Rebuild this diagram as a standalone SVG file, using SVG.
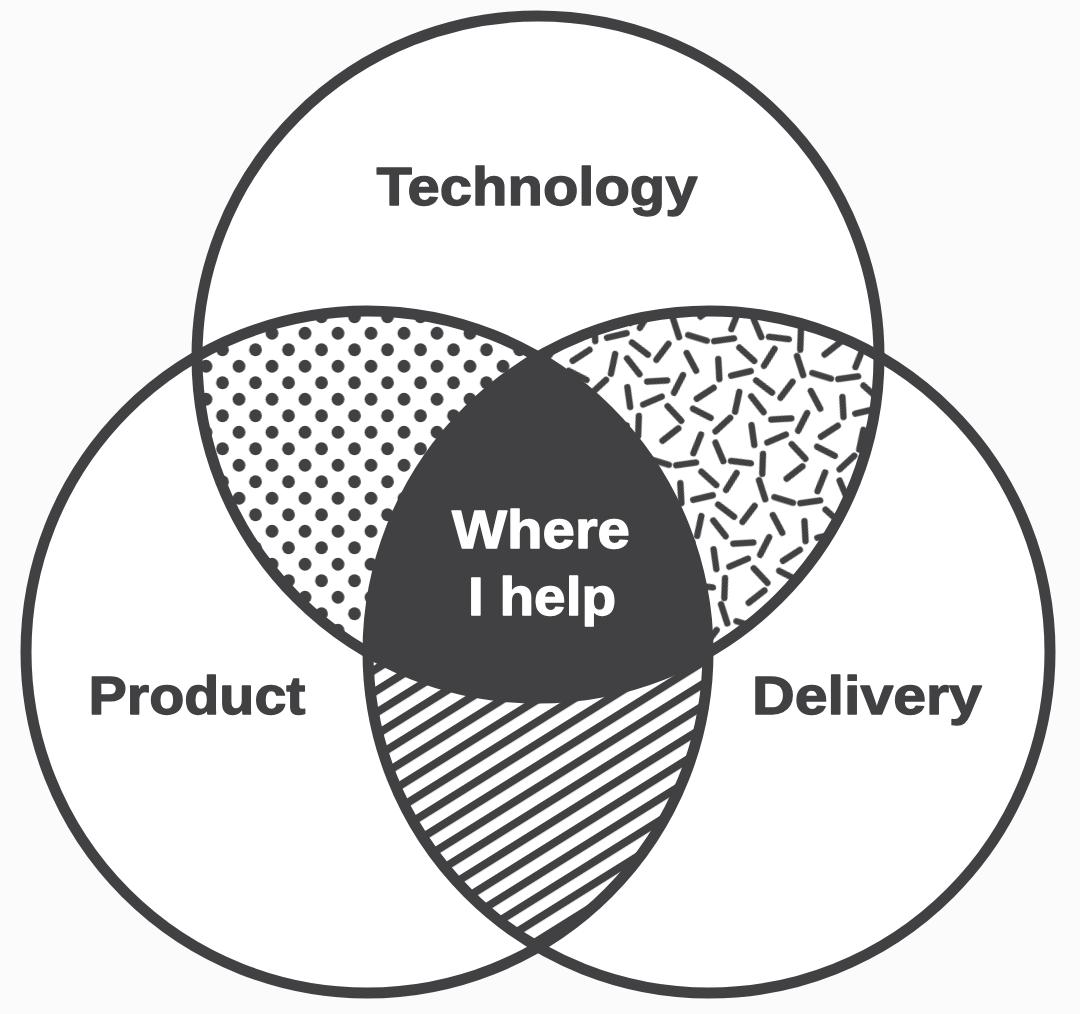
<svg xmlns="http://www.w3.org/2000/svg" width="1080" height="1014" viewBox="0 0 1080 1014">
<style>
.ring{fill:none;stroke:#414143;stroke-width:11}
.disc{fill:#ffffff}
.lbl{font-family:"Liberation Sans",Arial,Helvetica,sans-serif;font-weight:700;font-size:54px;fill:#414143;stroke:#414143;stroke-width:1.3;stroke-linejoin:round;text-anchor:middle}
.inv{fill:#ffffff;stroke:#ffffff}
.dot{fill:#414143}
.dash{fill:none;stroke:#414143;stroke-width:5.4;stroke-linecap:round}
</style>
<defs>
<clipPath id="cT"><circle cx="538" cy="357" r="341"/></clipPath>
<clipPath id="cP"><circle cx="367" cy="652" r="341"/></clipPath>
<clipPath id="cD"><circle cx="709" cy="652" r="341"/></clipPath>
<pattern id="dots" patternUnits="userSpaceOnUse" x="-0.25" y="-5" width="33" height="33">
<circle class="dot" cx="8.25" cy="8.25" r="6.4"/>
<circle class="dot" cx="24.75" cy="24.75" r="6.4"/>
</pattern>
<pattern id="dashes" patternUnits="userSpaceOnUse" width="110" height="110" patternTransform="rotate(17) scale(1.18)">
<path class="dash" d="M11.09,3.01L16.91,18.99M40.36,4.75L25.64,13.25M47.01,11.09L62.99,16.91M76.91,3.01L71.09,18.99M93.99,5.99L106.01,18.01
M14.47,27.49L3.53,40.51M36.26,24.53L37.74,41.47M47.04,25.12L60.96,34.88M84.99,33.09L69.01,38.91M96.48,24.63L93.52,41.37
M2.83,49.52L19.57,52.48M35.25,47.64L26.75,62.36M54.4,48.3L61.6,63.7M84.51,47.53L71.49,58.47M91.64,53.75L106.36,62.25
M15.74,68.53L14.26,85.47M29.53,71.49L40.47,84.51M63.37,79.52L46.63,82.48M70.8,68.79L75.2,85.21M105.88,69.04L96.12,82.96
M18.7,92.4L3.3,99.6M25.3,98.4L40.7,105.6M54.2,90.79L49.8,107.21M74.12,91.04L83.88,104.96M90.8,101L107.2,101"/>
</pattern>
<pattern id="stripes" patternUnits="userSpaceOnUse" width="40" height="18.6" patternTransform="rotate(-32)">
<rect x="0" y="0" width="40" height="8" fill="#414143"/>
</pattern>
</defs>
<rect x="0" y="0" width="1080" height="1014" fill="#fbfbfb"/>
<g id="circle-fills">
<circle class="disc" cx="538" cy="357" r="341"/>
<circle class="disc" cx="367" cy="652" r="341"/>
<circle class="disc" cx="709" cy="652" r="341"/>
</g>
<g id="overlaps">
<g id="tech-product" clip-path="url(#cT)"><rect clip-path="url(#cP)" x="0" y="0" width="1080" height="1014" fill="url(#dots)"/></g>
<g id="tech-delivery" clip-path="url(#cT)"><rect clip-path="url(#cD)" x="0" y="0" width="1080" height="1014" fill="url(#dashes)"/></g>
<g id="product-delivery" clip-path="url(#cP)"><rect clip-path="url(#cD)" x="0" y="0" width="1080" height="1014" fill="url(#stripes)"/></g>
<g id="center" clip-path="url(#cT)"><g clip-path="url(#cP)"><circle cx="709" cy="652" r="341" fill="#414143"/></g></g>
</g>
<g id="technology">
<circle class="ring" cx="538" cy="357" r="341"/>
<text class="lbl" x="537" y="205" textLength="321" lengthAdjust="spacingAndGlyphs">Technology</text>
</g>
<g id="product">
<circle class="ring" cx="367" cy="652" r="341"/>
<text class="lbl" x="197" y="714" textLength="217" lengthAdjust="spacingAndGlyphs">Product</text>
</g>
<g id="delivery">
<circle class="ring" cx="709" cy="652" r="341"/>
<text class="lbl" x="867" y="714" textLength="230" lengthAdjust="spacingAndGlyphs">Delivery</text>
</g>
<g id="where-i-help">
<text class="lbl inv" x="541" y="548" textLength="178" lengthAdjust="spacingAndGlyphs">Where</text>
<text class="lbl inv" x="542" y="615" textLength="148" lengthAdjust="spacingAndGlyphs">I help</text>
</g>
</svg>
